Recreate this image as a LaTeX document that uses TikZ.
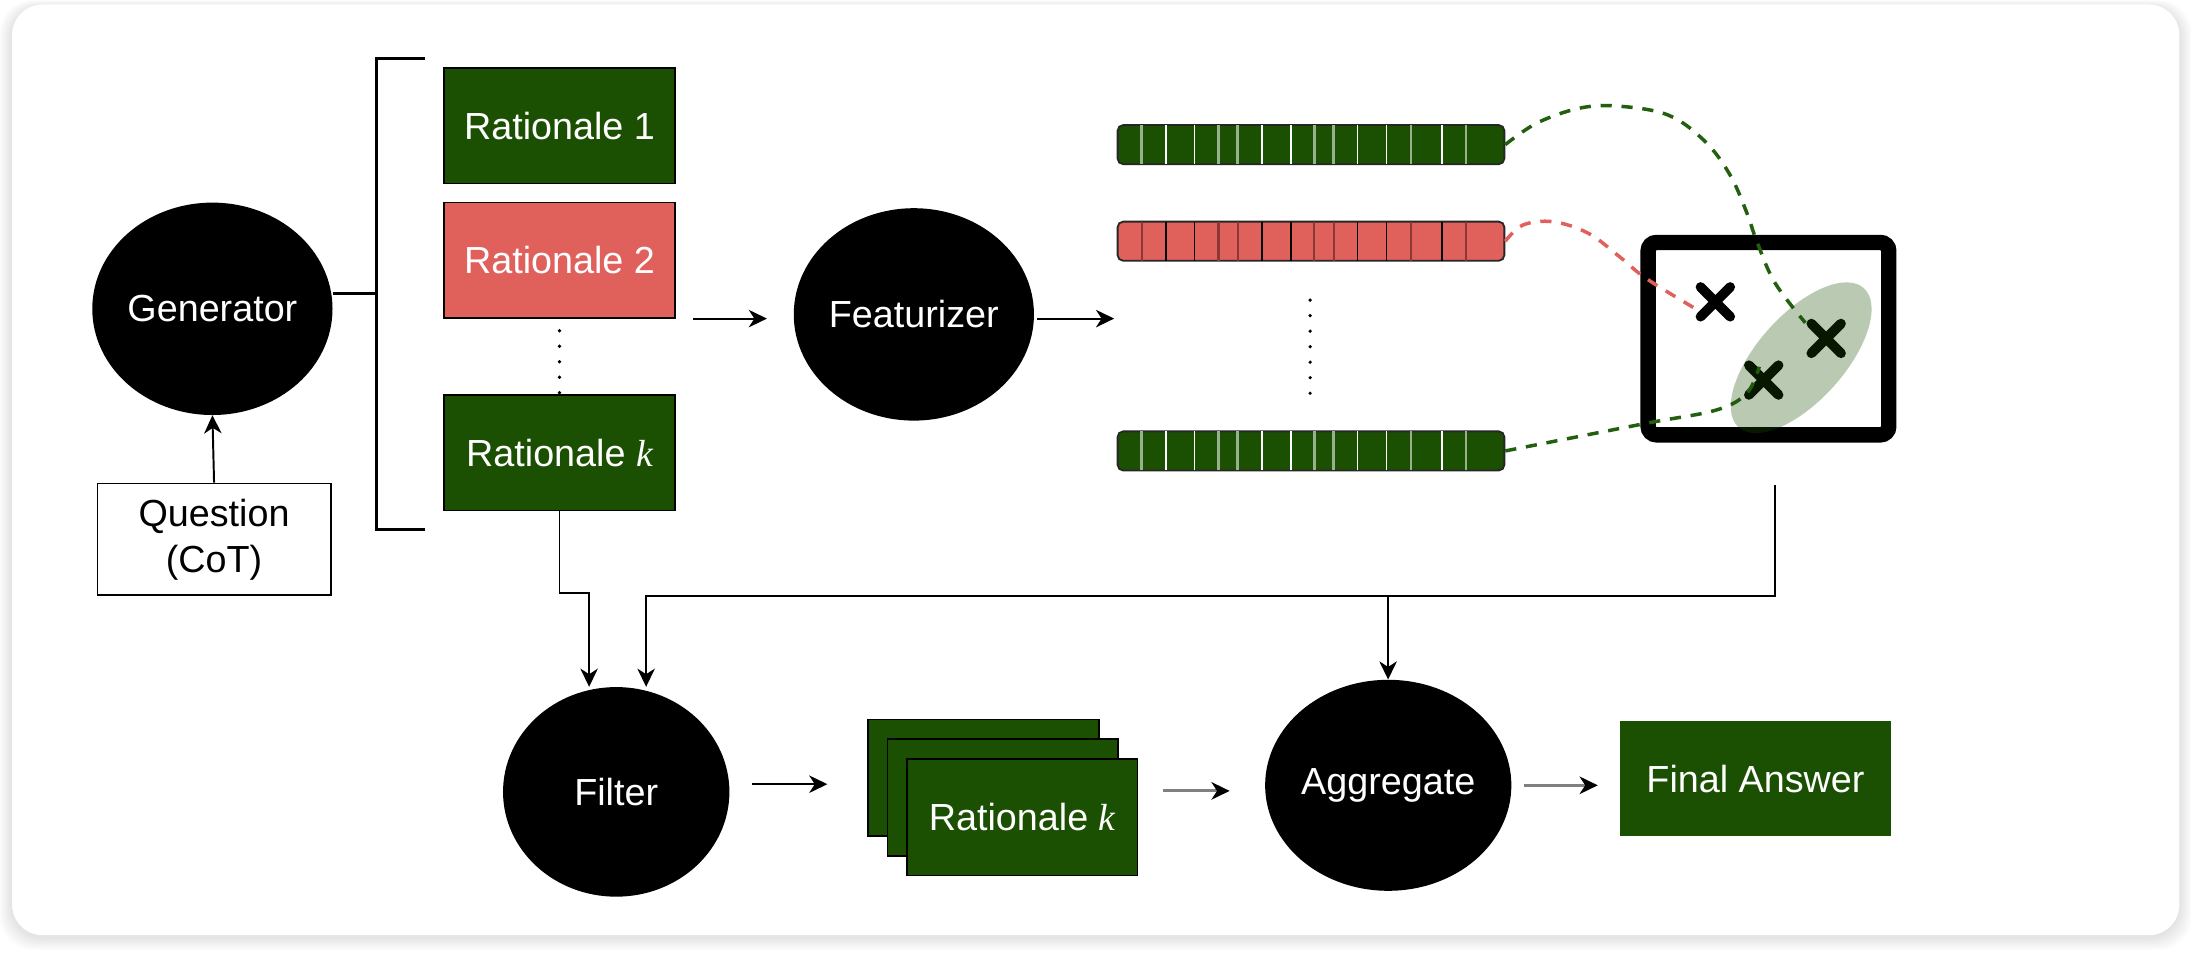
\documentclass[tikz,border=0pt]{standalone}
\usepackage{fontspec}
\setmainfont{Liberation Sans}
\newfontfamily\kfont{Liberation Serif}
\usetikzlibrary{shapes.geometric,arrows.meta,calc}
\definecolor{rgreen}{RGB}{27,80,2}
\definecolor{dgreen}{RGB}{34,96,16}
\definecolor{rred}{RGB}{224,96,92}
\definecolor{dred}{RGB}{140,56,52}
\newcommand{\kk}{{\kfont\itshape k}}
\begin{document}
\begin{tikzpicture}[x=1pt,y=-1pt,
  font=\fontsize{27pt}{33pt}\selectfont,
  blob/.style={ellipse, fill=black, text=white, inner sep=0pt, minimum width=166pt, minimum height=152pt},
  sblob/.style={blob, minimum width=162pt, minimum height=150pt},
  gbox/.style={rectangle, fill=rgreen, draw=black, line width=1.2pt, text=white, inner sep=0pt, minimum width=165.2pt, minimum height=82.6pt},
  rbox/.style={gbox, fill=rred},
  qbox/.style={rectangle, fill=white, draw=black, line width=1.2pt, text=black, align=center, inner sep=0pt, minimum width=167pt, minimum height=80pt},
  vecbar/.style={rectangle, draw=black!85, line width=1.3pt, rounded corners=4pt, inner sep=0pt, minimum width=276.8pt, minimum height=28pt},
  gbar/.style={vecbar, fill=rgreen},
  rbar/.style={vecbar, fill=rred},
  arr/.style={line width=1.4pt, -{Stealth[length=13pt, width=12.5pt, inset=4pt]}},
  garr/.style={draw=black!50, line width=2.2pt, -{Stealth[black, length=13pt, width=12.5pt, inset=4pt]}},
  brk/.style={line width=2pt},
  vdots/.style={line width=2.6pt, line cap=round, dash pattern=on 0pt off 11.1pt},
  xmark/.style={line width=7pt, line cap=round},
  gdash/.style={draw=dgreen, line width=2.5pt, dash pattern=on 8pt off 7pt},
  rdash/.style={draw=rred, line width=2.5pt, dash pattern=on 8pt off 7pt},
  lightdiv/.style={draw=rgreen!45!white, line width=2pt},
  whitediv/.style={draw=white, line width=1.1pt},
  dreddiv/.style={draw=dred, line width=1.6pt},
  blackdiv/.style={draw=black, line width=1.1pt}
]
\useasboundingbox (0,0) rectangle (1568,683.5);
\fill[white] (0,0) rectangle (1568,683.5);
% card shadow and card
\foreach \i in {1,...,9}{
  \fill[black, opacity=0.012, rounded corners=24pt] (8.6-\i,3.2-0.5*\i+1.5) rectangle (1559.7+\i,669.3+\i+1.5);
}
\fill[white, rounded corners=22pt] (8.6,3.2) rectangle (1559.7,669.3);

% generator and question
\node[blob] (gen) at (152,221) {Generator};
\node[qbox] (q) at (153.2,386) {Question\\(CoT)};
\draw[arr] (q.north) -- (gen.south);

% bracket
\coordinate (bt) at (269.5,41.9);
\coordinate (bb) at (269.5,379);
\coordinate (bm) at (269.5,210.3);
\draw[brk] (304,41.9) -- (bt) -- (bb) -- (304,379);
\draw[brk] (bm -| gen.east) -- (bm);

% rationales
\node[gbox] (r1) at (400.4,90) {Rationale 1};
\node[rbox] (r2) at (400.4,186.3) {Rationale 2};
\node[gbox] (rk) at (400.4,324.1) {Rationale \kk};
\draw[vdots] ([yshift=-8.5pt]r2.south) -- (rk.north);

% featurizer
\node[blob] (feat) at (654,225) {Featurizer};
\coordinate (a1) at (496,228);
\draw[arr, shorten >=19pt] (a1) -- (a1 -| feat.west);

% vectors
\node[gbar] (bar1) at (938.2,103.5) {};
\node[rbar] (bar2) at (938.2,172.6) {};
\node[gbar] (bar3) at (938.2,322.7) {};
\foreach \f in {0.0647,0.263,0.313,0.511,0.561,0.761,0.903}{
  \draw[lightdiv] ([xshift=\f*276.8pt, yshift=0.7pt]bar1.south west) -- ([xshift=\f*276.8pt, yshift=-0.7pt]bar1.north west);
  \draw[lightdiv] ([xshift=\f*276.8pt, yshift=0.7pt]bar3.south west) -- ([xshift=\f*276.8pt, yshift=-0.7pt]bar3.north west);
  \draw[dreddiv] ([xshift=\f*276.8pt, yshift=0.7pt]bar2.south west) -- ([xshift=\f*276.8pt, yshift=-0.7pt]bar2.north west);
}
\foreach \f in {0.1276,0.2009,0.376,0.451,0.623,0.698,0.841}{
  \draw[whitediv] ([xshift=\f*276.8pt, yshift=0.7pt]bar1.south west) -- ([xshift=\f*276.8pt, yshift=-0.7pt]bar1.north west);
  \draw[whitediv] ([xshift=\f*276.8pt, yshift=0.7pt]bar3.south west) -- ([xshift=\f*276.8pt, yshift=-0.7pt]bar3.north west);
  \draw[blackdiv] ([xshift=\f*276.8pt, yshift=0.7pt]bar2.south west) -- ([xshift=\f*276.8pt, yshift=-0.7pt]bar2.north west);
}
\coordinate (a2) at (742,228);
\draw[arr, shorten >=1.8pt] (a2) -- (a2 -| bar2.west);
\draw[vdots] (937.6,214.8) -- (937.6,282.2);

% scatter plot
\node[draw, line width=11pt, rounded corners=6pt, minimum width=172.2pt, minimum height=137.7pt, inner sep=0pt] (scatter) at (1265.6,242.35) {};
\coordinate (m1) at (1227.6,216);
\coordinate (m2) at (1306.9,242.2);
\coordinate (m3) at (1262.2,272);
\foreach \m in {m1,m2,m3}{
  \draw[xmark] (\m) +(-10.6,-10.6) -- +(10.6,10.6) +(-10.6,10.6) -- +(10.6,-10.6);
}
\draw[gdash] plot[smooth, tension=0.6] coordinates {(bar1.east) (1100,88) (1130,77.5) (1157.4,75.9) (1193.7,82.3) (1220,101) (1238,125) (1250,152) (1257,172) (1270,202) (1292,231)};
\draw[rdash] plot[smooth, tension=0.6] coordinates {(bar2.east) (1090,161) (1111.6,158.7) (1136.8,167) (1159,183.7) (1178,199.2) (1213,220.7)};
\draw[gdash] plot[smooth, tension=0.6] coordinates {(bar3.east) (1177.8,303) (1228,293.5) (1250,281.5) (1259,262.5)};
\fill[rgreen, opacity=0.3, rotate around={48:(1289,256)}] (1289,256) ellipse [x radius=67pt, y radius=31pt];

% bottom row
\node[sblob] (filter) at (441,566.7) {Filter};
\node[sblob, minimum height=151pt] (agg) at (993.5,562) {Aggregate};
\node[gbox, minimum width=165.1pt, minimum height=83.5pt] (st1) at (703.95,556.75) {};
\node[gbox, minimum width=165.1pt, minimum height=83.5pt] (st2) at (717.75,570.75) {};
\node[gbox, minimum width=165.1pt, minimum height=83.5pt] (st3) at (731.55,584.75) {Rationale \kk};
\node[gbox, draw=rgreen, minimum width=193.3pt, minimum height=81.1pt] (final) at (1256.3,557.2) {Final Answer};

% connectors into filter / aggregate
\coordinate (kb) at (400.4,424.6);
\coordinate (kc) at (421.6,424.6);
\draw[arr] (rk.south) -- (kb) -- (kc) -- (kc |- filter.north);
\coordinate (s0) at (1270.6,347);
\coordinate (h1) at (1270.6,426.4);
\coordinate (hf) at (462.4,426.4);
\coordinate (ha) at (993.4,426.4);
\draw[arr] (s0) -- (h1) -- (hf) -- (hf |- filter.north);
\draw[arr] (ha) -- (ha |- agg.north);

\coordinate (a3) at (538,561.2);
\draw[arr, shorten >=28.7pt] (a3) -- (a3 -| st1.west);
\coordinate (a4) at (832.5,566);
\draw[garr, shorten >=25.2pt] (a4) -- (a4 -| agg.west);
\coordinate (a5) at (1090.7,562);
\draw[garr, shorten >=15.6pt] (a5) -- (a5 -| final.west);
\end{tikzpicture}
\end{document}
